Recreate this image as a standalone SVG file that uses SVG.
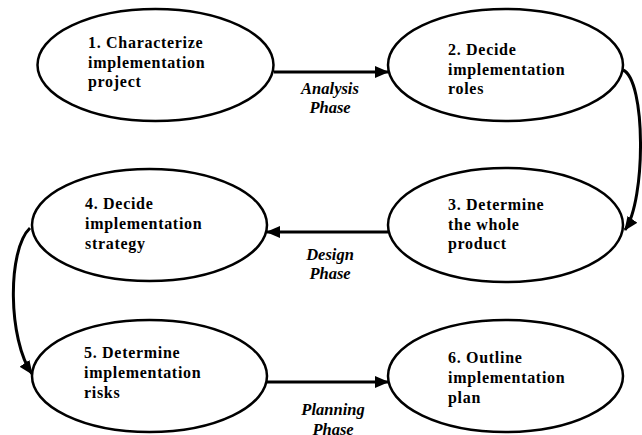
<svg xmlns="http://www.w3.org/2000/svg" width="642" height="435" viewBox="0 0 642 435">
<style>
.node ellipse{fill:#fff;stroke:#000;stroke-width:2.5}
.node text{font-family:"Liberation Serif","Times New Roman",serif;font-weight:bold;font-size:16px;letter-spacing:0.7px;fill:#000}
.conn path{fill:none;stroke:#000;stroke-width:3}
.lbl{font-family:"Liberation Serif","Times New Roman",serif;font-weight:bold;font-style:italic;font-size:16.5px;fill:#000;text-anchor:middle}
</style>
<defs>
<marker id="ah" markerUnits="userSpaceOnUse" markerWidth="14" markerHeight="12" refX="13" refY="6" orient="auto">
<path d="M0,0 L14,6 L0,12 z" fill="#000"/>
</marker>
</defs>
<rect width="642" height="435" fill="#fff"/>
<g class="conn">
<path d="M274,72 L388,72" marker-end="url(#ah)"/>
<path d="M623,70 C646,80 646,200 625,230" marker-end="url(#ah)"/>
<path d="M388,232 L267,232" marker-end="url(#ah)"/>
<path d="M30,228 C7,250 8,340 32,374" marker-end="url(#ah)"/>
<path d="M267,382 L388,382" marker-end="url(#ah)"/>
</g>
<g id="labels">
<text class="lbl" x="330" y="94">Analysis</text>
<text class="lbl" x="330" y="113">Phase</text>
<text class="lbl" x="330" y="260">Design</text>
<text class="lbl" x="330" y="279">Phase</text>
<text class="lbl" x="333" y="415">Planning</text>
<text class="lbl" x="333" y="435">Phase</text>
</g>
<g id="n1" class="node">
<ellipse cx="155.5" cy="65" rx="118" ry="56"/>
<text x="88" y="48">1. Characterize</text>
<text x="88" y="68">implementation</text>
<text x="88" y="87">project</text>
</g>
<g id="n2" class="node">
<ellipse cx="505.5" cy="65" rx="117.5" ry="56"/>
<text x="448" y="55">2. Decide</text>
<text x="448" y="75">implementation</text>
<text x="448" y="94">roles</text>
</g>
<g id="n3" class="node">
<ellipse cx="505.5" cy="225" rx="117.5" ry="57"/>
<text x="448" y="210">3. Determine</text>
<text x="448" y="230">the whole</text>
<text x="448" y="249">product</text>
</g>
<g id="n4" class="node">
<ellipse cx="149.5" cy="225" rx="117.5" ry="56"/>
<text x="85" y="209">4. Decide</text>
<text x="85" y="229">implementation</text>
<text x="85" y="249">strategy</text>
</g>
<g id="n5" class="node">
<ellipse cx="149.5" cy="376" rx="117.5" ry="56"/>
<text x="84" y="358">5. Determine</text>
<text x="84" y="378">implementation</text>
<text x="84" y="398">risks</text>
</g>
<g id="n6" class="node">
<ellipse cx="505.5" cy="376" rx="117.5" ry="56"/>
<text x="448" y="363">6. Outline</text>
<text x="448" y="383">implementation</text>
<text x="448" y="403">plan</text>
</g>
</svg>
